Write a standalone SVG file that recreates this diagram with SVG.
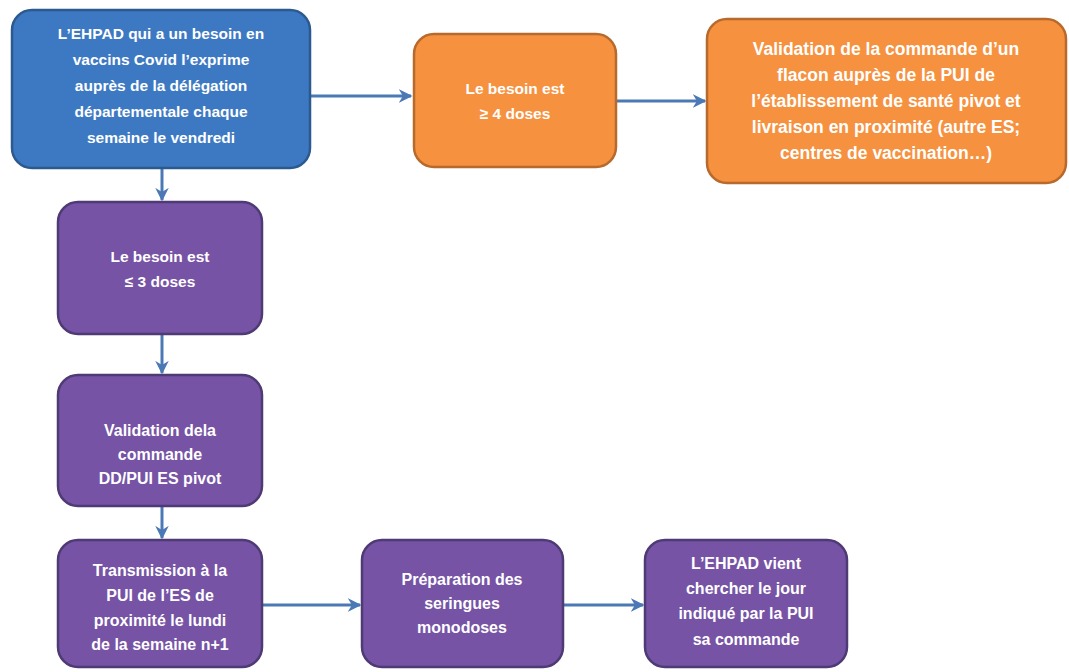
<svg xmlns="http://www.w3.org/2000/svg" width="1069" height="672" viewBox="0 0 1069 672">
<defs>
<style>
.box{stroke-width:2.5}
.blue{fill:#3d79c2;stroke:#2c5a8f}
.orange{fill:#f6913f;stroke:#b8692c}
.purple{fill:#7653a4;stroke:#4e3a74}
text{font-family:"Liberation Sans",Arial,sans-serif;font-weight:bold;font-size:16px;fill:#ffffff;text-anchor:middle}
.t15{font-size:15.5px}
.t14{font-size:14.5px}
.t17{font-size:17.5px}
.conn{stroke:#4a79b5;stroke-width:3;fill:none;marker-end:url(#arr)}
</style>
<marker id="arr" viewBox="0 0 10 10" refX="9" refY="5" markerWidth="4.5" markerHeight="4.5" orient="auto" markerUnits="strokeWidth">
<path d="M0,0 L10,5 L0,10 L3,5 Z" fill="#4a79b5"/>
</marker>
</defs>
<rect width="1069" height="672" fill="#ffffff"/>
<g id="connectors">
<line class="conn" x1="310" y1="96" x2="411" y2="96"/>
<line class="conn" x1="616" y1="101" x2="705" y2="101"/>
<line class="conn" x1="162" y1="168" x2="162" y2="200"/>
<line class="conn" x1="162" y1="334" x2="162" y2="373"/>
<line class="conn" x1="162" y1="506" x2="162" y2="538"/>
<line class="conn" x1="262" y1="605" x2="360" y2="605"/>
<line class="conn" x1="563" y1="605" x2="643" y2="605"/>
</g>
<g id="n1">
<rect class="box blue" x="12" y="10" width="298" height="158" rx="20"/>
<text class="t15" x="161" y="39">L’EHPAD qui a un besoin  en</text>
<text class="t15" x="161" y="65">vaccins Covid l’exprime</text>
<text class="t15" x="161" y="91">auprès de la délégation</text>
<text class="t15" x="161" y="117">départementale chaque</text>
<text class="t15" x="161" y="143">semaine le vendredi</text>
</g>
<g id="n2">
<rect class="box orange" x="414" y="34" width="202" height="133" rx="20"/>
<text class="t15" x="515" y="94">Le besoin est</text>
<text class="t15" x="515" y="119">≥ 4 doses</text>
</g>
<g id="n3">
<rect class="box orange" x="707" y="19" width="359" height="164" rx="20"/>
<text class="t17" x="886" y="55">Validation de la  commande d’un</text>
<text class="t17" x="886" y="81">flacon auprès de la PUI de</text>
<text class="t17" x="886" y="107">l’établissement de santé pivot et</text>
<text class="t17" x="886" y="133">livraison en proximité (autre ES;</text>
<text class="t17" x="886" y="159">centres de vaccination…)</text>
</g>
<g id="n4">
<rect class="box purple" x="58" y="202" width="204" height="132" rx="20"/>
<text class="t15" x="160" y="262">Le besoin est</text>
<text class="t15" x="160" y="287">≤ 3 doses</text>
</g>
<g id="n5">
<rect class="box purple" x="58" y="375" width="204" height="131" rx="20"/>
<text x="160" y="436">Validation dela</text>
<text x="160" y="460">commande</text>
<text x="160" y="484">DD/PUI ES pivot</text>
</g>
<g id="n6">
<rect class="box purple" x="58" y="540" width="204" height="127" rx="20"/>
<text x="160" y="576">Transmission à la</text>
<text x="160" y="601">PUI de l’ES de</text>
<text x="160" y="626">proximité le lundi</text>
<text x="160" y="650">de la semaine n+1</text>
</g>
<g id="n7">
<rect class="box purple" x="362" y="540" width="201" height="127" rx="20"/>
<text x="462" y="585">Préparation des</text>
<text x="462" y="609">seringues</text>
<text x="462" y="633">monodoses</text>
</g>
<g id="n8">
<rect class="box purple" x="645" y="540" width="202" height="127" rx="20"/>
<text x="746" y="569">L’EHPAD vient</text>
<text x="746" y="594">chercher le jour</text>
<text x="746" y="619">indiqué par la PUI</text>
<text x="746" y="645">sa commande</text>
</g>
</svg>
